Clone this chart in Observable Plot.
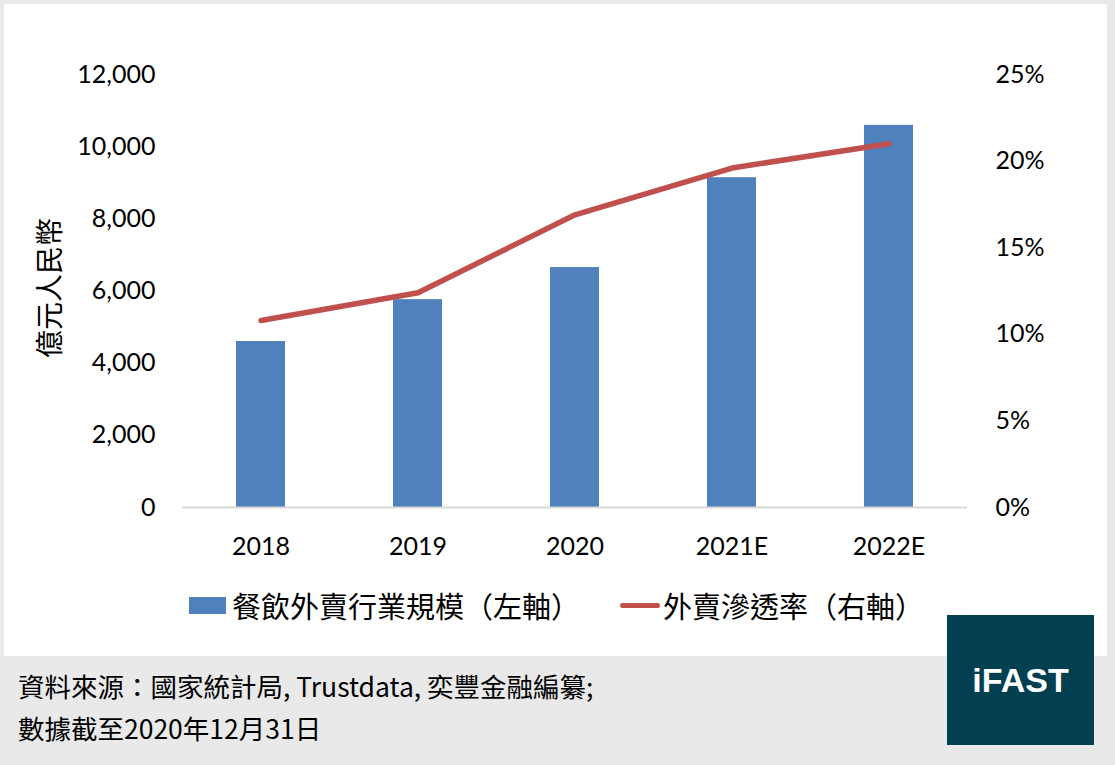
<!DOCTYPE html>
<html><head><meta charset="utf-8">
<script src="https://cdn.jsdelivr.net/npm/d3@7"></script>
<script src="https://cdn.jsdelivr.net/npm/@observablehq/plot@0.6"></script>
<style>
html,body{margin:0;padding:0}
body{background:#e9e9e9;width:1115px;height:765px;position:relative;overflow:hidden;font-family:"Noto Sans CJK TC","Noto Sans",sans-serif;color:#000}
#panel{position:absolute;left:4px;top:4px;width:1103px;height:652px;background:#fff}
#chart{position:absolute;left:0;top:0}
#ytitle{position:absolute;left:48px;top:288px;transform:translate(-50%,-50%) rotate(-90deg);font-size:28px;white-space:nowrap;line-height:1}
.leg{position:absolute;top:588px;font-size:29px;line-height:34px;white-space:nowrap;display:flex;align-items:center}
.sw{display:inline-block;margin-right:6px}
.foot{position:absolute;left:18px;font-size:26.5px;white-space:nowrap;line-height:1}
#logo{position:absolute;left:947px;top:615px;width:147px;height:130px;background:#023f51;color:#fff;font-family:"Liberation Sans",Arial,sans-serif;font-weight:bold;font-size:34px;display:flex;align-items:center;justify-content:center}
</style>
</head><body>
<div id="panel"></div>
<div id="chart"></div>
<div id="ytitle">億元人民幣</div>
<div class="leg" style="left:189px"><span class="sw" style="width:37px;height:17px;background:#4f81bd"></span>餐飲外賣行業規模（左軸）</div>
<div class="leg" style="left:620px"><span class="sw" style="width:40px;height:5px;background:#c0504d;border-radius:3px;margin-right:3px"></span>外賣滲透率（右軸）</div>
<div class="foot" style="top:673px">資料來源：國家統計局, Trustdata, 奕豐金融編纂;</div>
<div class="foot" style="top:715px">數據截至2020年12月31日</div>
<div id="logo">iFAST</div>
<script>
const years = ["2018", "2019", "2020", "2021E", "2022E"];
const marketSize = [4600, 5760, 6650, 9140, 10590];
const penetration = [10.8, 12.4, 16.9, 19.6, 21.0];
const leftTicks = [0, 2000, 4000, 6000, 8000, 10000, 12000];
const rightTicks = [0, 5, 10, 15, 20, 25];
const leftMax = 12000, rightMax = 25;

const data = years.map((y, i) => ({year: y, size: marketSize[i], rate: penetration[i]}));
const toLeft = r => r * leftMax / rightMax;

const chart = Plot.plot({
  width: 1115, height: 560,
  marginTop: 74, marginBottom: 53, marginLeft: 182, marginRight: 148,
  x: {domain: years, paddingInner: 0.69, paddingOuter: 0.345},
  y: {domain: [0, leftMax]},
  style: {fontFamily: "Lato, 'Open Sans', sans-serif", fontSize: "25px", color: "#000", background: "transparent"},
  marks: [
    Plot.barY(data, {x: "year", y: "size", fill: "#4f81bd"}),
    Plot.ruleY([0], {stroke: "#d9d9d9", strokeWidth: 2}),
    Plot.lineY(data, {x: "year", y: d => toLeft(d.rate), stroke: "#c0504d", strokeWidth: 5.5, strokeLinecap: "round", strokeLinejoin: "round"}),
    Plot.axisY(leftTicks, {anchor: "left", tickSize: 0, tickPadding: 27, tickFormat: d3.format(","), label: null, fontSize: 25}),
    Plot.axisY(rightTicks.map(toLeft), {anchor: "right", tickSize: 0, tickPadding: 28, tickFormat: d => Math.round(d * rightMax / leftMax) + "%", label: null, fontSize: 25}),
    Plot.axisX({tickSize: 0, tickPadding: 30, label: null, fontSize: 25})
  ]
});
document.getElementById("chart").appendChild(chart);
</script>
</body></html>
